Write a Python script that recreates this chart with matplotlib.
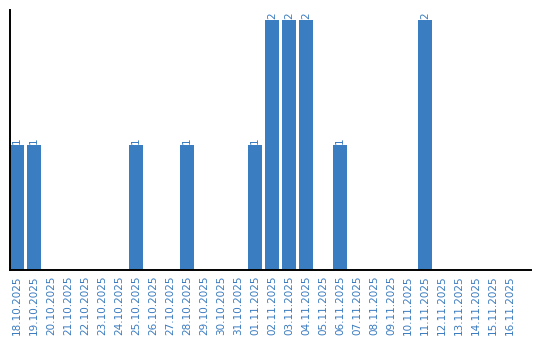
import matplotlib
matplotlib.use("Agg")
import matplotlib.pyplot as plt

dates = ["18.10.2025", "19.10.2025", "20.10.2025", "21.10.2025", "22.10.2025",
         "23.10.2025", "24.10.2025", "25.10.2025", "26.10.2025", "27.10.2025",
         "28.10.2025", "29.10.2025", "30.10.2025", "31.10.2025", "01.11.2025",
         "02.11.2025", "03.11.2025", "04.11.2025", "05.11.2025", "06.11.2025",
         "07.11.2025", "08.11.2025", "09.11.2025", "10.11.2025", "11.11.2025",
         "12.11.2025", "13.11.2025", "14.11.2025", "15.11.2025", "16.11.2025"]
values = [1, 1, 0, 0, 0, 0, 0, 1, 0, 0,
          1, 0, 0, 0, 1, 2, 2, 2, 0, 1,
          0, 0, 0, 0, 2, 0, 0, 0, 0, 0]

bar_color = "#3b7dc1"
text_color = "#3a7bbf"

fig = plt.figure(figsize=(5.4, 3.4), dpi=100)
ax = fig.add_axes([10/540, 70/340, 521/540, 260/340])
x = list(range(len(dates)))
ax.bar(x, values, width=14/17, color=bar_color)
for xi, v in zip(x, values):
    if v > 0:
        ax.text(xi, v + 0.01, str(v), rotation=90, ha="center", va="bottom",
                color=text_color, fontsize=7.5)
ax.set_xlim(-7/17, 30.24)
ax.set_ylim(0, 2.08)
ax.set_xticks(x)
ax.set_xticklabels(dates, rotation=90, color=text_color, fontsize=7.5)
ax.tick_params(axis="x", length=0, pad=4)
ax.set_yticks([])
for s in ["top", "right"]:
    ax.spines[s].set_visible(False)
for s in ["left", "bottom"]:
    ax.spines[s].set_linewidth(1.4)
    ax.spines[s].set_color("black")
fig.savefig("out.png", dpi=100)
